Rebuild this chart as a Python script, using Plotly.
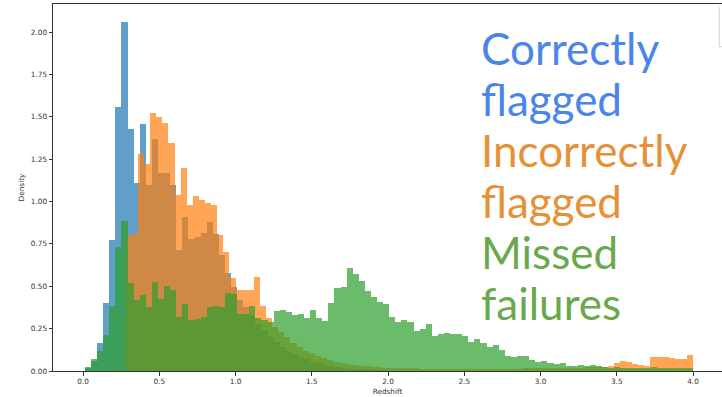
import numpy as np
import plotly.graph_objects as go

# Histogram bin layout (start edge, bin width) for each population
BLUE_START, BLUE_WIDTH = 0.013, 0.0399
ORANGE_START, ORANGE_WIDTH = 0.28, 0.04
GREEN_START, GREEN_WIDTH = 0.013, 0.0399

# Density per bin: correctly flagged
correct_density = [
    0.02, 0.06, 0.163, 0.40, 0.77, 1.556, 2.06, 1.43, 1.107, 1.457,
    1.10, 1.367, 1.17, 1.17, 1.10, 0.714, 0.91, 0.777, 0.79, 0.816,
    0.88, 0.81, 0.684, 0.576, 0.497, 0.42, 0.38, 0.33, 0.28, 0.24,
    0.20, 0.17, 0.14, 0.12, 0.10, 0.085, 0.07, 0.055, 0.045, 0.035,
    0.028, 0.022, 0.017, 0.013, 0.01, 0.008, 0.006, 0.005, 0.004, 0.003,
]

# Density per bin: incorrectly flagged
incorrect_density = [
    0.80, 0.81, 1.28, 1.22, 1.52, 1.50, 1.465, 1.347, 1.04, 1.195,
    0.98, 1.03, 1.01, 0.99, 0.98, 0.80, 0.70, 0.55, 0.48, 0.48,
    0.48, 0.555, 0.385, 0.31, 0.26, 0.23, 0.20, 0.165, 0.14, 0.12,
    0.105, 0.09, 0.075, 0.065, 0.055, 0.048, 0.042, 0.036, 0.032, 0.028,
    0.025, 0.022, 0.02, 0.019, 0.018, 0.017, 0.016, 0.015, 0.014, 0.014,
    0.013, 0.013, 0.012, 0.012, 0.012, 0.012, 0.012, 0.012, 0.012, 0.012,
    0.012, 0.013, 0.013, 0.014, 0.014, 0.015, 0.015, 0.016, 0.016, 0.017,
    0.018, 0.018, 0.019, 0.02, 0.02, 0.021, 0.022, 0.024, 0.026, 0.03,
    0.05, 0.058, 0.055, 0.042, 0.035, 0.027, 0.083, 0.084, 0.08, 0.075,
    0.072, 0.072, 0.092,
]

# Density per bin: missed failures
missed_density = [
    0.022, 0.069, 0.118, 0.212, 0.385, 0.733, 0.887, 0.52, 0.42, 0.45,
    0.38, 0.527, 0.425, 0.50, 0.478, 0.32, 0.393, 0.30, 0.305, 0.32,
    0.38, 0.385, 0.377, 0.462, 0.454, 0.336, 0.336, 0.385, 0.31, 0.30,
    0.29, 0.356, 0.36, 0.35, 0.33, 0.334, 0.31, 0.36, 0.31, 0.297,
    0.40, 0.488, 0.496, 0.606, 0.57, 0.53, 0.472, 0.435, 0.405, 0.393,
    0.317, 0.29, 0.30, 0.29, 0.238, 0.25, 0.277, 0.206, 0.218, 0.226,
    0.22, 0.218, 0.206, 0.17, 0.187, 0.167, 0.143, 0.153, 0.124, 0.088,
    0.081, 0.088, 0.088, 0.065, 0.055, 0.058, 0.049, 0.041, 0.049, 0.031,
    0.029, 0.033, 0.029, 0.037, 0.027, 0.025, 0.02, 0.022, 0.018, 0.02,
    0.017, 0.02, 0.016, 0.022, 0.018, 0.02, 0.017, 0.019, 0.018, 0.02,
]

x_ticks = [0.0, 0.5, 1.0, 1.5, 2.0, 2.5, 3.0, 3.5, 4.0]
y_ticks = [0.0, 0.25, 0.5, 0.75, 1.0, 1.25, 1.5, 1.75, 2.0]

legend_lines = [
    ("Correctly", "#4a86e8"),
    ("flagged", "#4a86e8"),
    ("Incorrectly", "#e69138"),
    ("flagged", "#e69138"),
    ("Missed", "#6aa84f"),
    ("failures", "#6aa84f"),
]

W, H = 722, 397
M_L, M_R, M_T, M_B = 53, 0, 4, 26
PX_PER_X = 152.5
PX_PER_Y = 169.5
X0_PX = 83  # pixel where redshift 0 sits

plot_w = W - M_L - M_R
plot_h = H - M_T - M_B
x_range = [(M_L - X0_PX) / PX_PER_X, (W - M_R - X0_PX) / PX_PER_X]
y_range = [0, plot_h / PX_PER_Y]


def bin_centers(start, width, n):
    return start + width * (np.arange(n) + 0.5)


fig = go.Figure()
series = [
    (correct_density, BLUE_START, BLUE_WIDTH, "#1f77b4"),
    (incorrect_density, ORANGE_START, ORANGE_WIDTH, "#ff7f0e"),
    (missed_density, GREEN_START, GREEN_WIDTH, "#2ca02c"),
]
for vals, start, width, color in series:
    n = len(vals)
    fig.add_trace(go.Bar(
        x=bin_centers(start, width, n),
        y=vals,
        width=[width] * n,
        marker=dict(color=color, line=dict(width=0)),
        opacity=0.7,
        showlegend=False,
        hoverinfo="skip",
    ))

tick_font = dict(family="DejaVu Sans", size=7.3, color="#333333")

fig.update_layout(
    width=W, height=H,
    margin=dict(l=M_L, r=M_R, t=M_T, b=M_B, pad=0),
    paper_bgcolor="white",
    plot_bgcolor="white",
    barmode="overlay",
    bargap=0,
    xaxis=dict(
        range=x_range,
        tickvals=x_ticks,
        ticktext=[f"{v:.1f}" for v in x_ticks],
        ticks="outside", ticklen=3.5, tickwidth=0.8, tickcolor="#333333",
        showline=True, linecolor="#333333", linewidth=1, mirror=True,
        showgrid=False, zeroline=False,
        tickfont=tick_font,
        title=dict(text="Redshift", font=tick_font, standoff=3),
    ),
    yaxis=dict(
        range=y_range,
        tickvals=y_ticks,
        ticktext=[f"{v:.2f}" for v in y_ticks],
        ticks="outside", ticklen=3.5, tickwidth=0.8, tickcolor="#333333",
        showline=True, linecolor="#333333", linewidth=1,
        showgrid=False, zeroline=False,
        tickfont=tick_font,
        title=dict(text="Density", font=tick_font, standoff=5),
    ),
)

# Large coloured labels on the right
text_left_px = 479
first_baseline_px = 63
line_step_px = 51
font_px = 44
for i, (txt, col) in enumerate(legend_lines):
    baseline = first_baseline_px + i * line_step_px
    center_y = baseline - 0.33 * font_px
    fig.add_annotation(
        text=txt,
        xref="paper", yref="paper",
        x=(text_left_px - M_L) / plot_w,
        y=(H - M_B - center_y) / plot_h,
        xanchor="left", yanchor="middle",
        showarrow=False,
        font=dict(family="Lato", size=font_px, color=col),
    )

# Faint frame fragment at the top-right corner
fig.add_shape(type="line", xref="paper", yref="paper",
              x0=(719.3 - M_L) / plot_w, x1=(719.3 - M_L) / plot_w,
              y0=(H - M_B - 46.7) / plot_h, y1=(H - M_B - 7) / plot_h,
              line=dict(color="#d4d4d4", width=1))
fig.add_shape(type="line", xref="paper", yref="paper",
              x0=(719.3 - M_L) / plot_w, x1=1.0,
              y0=(H - M_B - 46.7) / plot_h, y1=(H - M_B - 46.7) / plot_h,
              line=dict(color="#d4d4d4", width=1))

fig.write_html("out.html")
